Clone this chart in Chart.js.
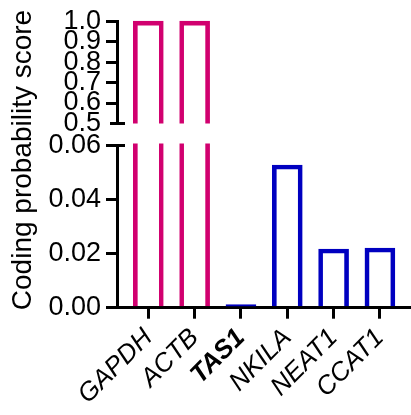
<!DOCTYPE html>
<html><head><meta charset="utf-8">
<script src="https://cdn.jsdelivr.net/npm/chart.js@4.4.1/dist/chart.umd.min.js"></script>
<style>
html,body{margin:0;padding:0;background:#fff;}
#wrap{position:relative;width:411px;height:415px;overflow:hidden;background:#fff;}
canvas{position:absolute;left:0;top:0;}
#ytitle{position:absolute;left:21.5px;top:159.5px;width:340px;height:30px;margin-left:-170px;margin-top:-15px;line-height:30px;text-align:center;font-family:'Liberation Sans',Arial,sans-serif;font-size:28px;color:#000;white-space:nowrap;transform:rotate(-90deg);}
</style></head>
<body>
<div id="wrap">
<canvas id="bottom" width="411" height="415"></canvas>
<canvas id="top" width="411" height="415"></canvas>
<div id="ytitle">Coding probability score</div>
</div>
<script>
// ---- data ----
const categories = ['GAPDH', 'ACTB', 'TAS1', 'NKILA', 'NEAT1', 'CCAT1'];
const scores = [1.0, 1.0, 0.0012, 0.0528, 0.0217, 0.0221];
const geneType = ['coding', 'coding', 'lncRNA', 'lncRNA', 'lncRNA', 'lncRNA'];
const upperTicks = [0.5, 0.6, 0.7, 0.8, 0.9, 1.0];
const lowerTicks = [0, 0.02, 0.04, 0.06];

// ---- styling / layout ----
const FONT = "'Liberation Sans', Arial, Helvetica, sans-serif";
const typeColor = { coding: '#D1006F', lncRNA: '#0000C0' };
const X_MIN = -0.676, X_MAX = 5.671;
const AXIS_X = 117;

const points = categories.map((c, i) => ({ x: i, y: scores[i] }));

const breakCap = {
  id: 'breakCap',
  afterDraw(chart, args, opts) {
    const ctx = chart.ctx;
    const py = chart.scales.y.getPixelForValue(opts.at);
    const px = chart.chartArea.left;
    ctx.save();
    ctx.strokeStyle = '#000';
    ctx.lineWidth = 3;
    ctx.beginPath();
    ctx.moveTo(px - 7, py);
    ctx.lineTo(px + 8, py);
    ctx.stroke();
    ctx.restore();
  }
};

function dataset() {
  return {
    data: points,
    backgroundColor: 'rgba(0,0,0,0)',
    borderColor: geneType.map(t => typeColor[t]),
    borderWidth: 4,
    borderSkipped: 'start',
    barThickness: 30,
    clip: { left: 0, right: 0, top: 2, bottom: 0 }
  };
}

function yScale(min, max, ticks, digits, hideMinTick) {
  return {
    min: min, max: max,
    afterFit: s => { s.width = AXIS_X; },
    afterBuildTicks: s => { s.ticks = ticks.map(v => ({ value: v })); },
    border: { display: true, color: '#000', width: 3 },
    grid: {
      drawOnChartArea: false, drawTicks: true, tickLength: 11, tickWidth: 3, lineWidth: 3, color: '#000',
      tickColor: ctx => (hideMinTick && ctx.tick && ctx.tick.value === min) ? 'rgba(0,0,0,0)' : '#000'
    },
    ticks: {
      autoSkip: false, padding: 5, color: '#000',
      font: { family: FONT, size: 27 },
      callback: v => Number(v).toFixed(digits)
    }
  };
}

function xScale(show) {
  return {
    type: 'linear', min: X_MIN, max: X_MAX, offset: false, bounds: 'data',
    display: show,
    afterFit: s => { if (show) s.height = 415 - 307.7; },
    afterBuildTicks: s => { s.ticks = categories.map((c, i) => ({ value: i })); },
    border: { display: true, color: '#000', width: 3 },
    grid: { offset: false, drawOnChartArea: false, drawTicks: true, tickLength: 11, tickWidth: 3, lineWidth: 3, color: '#000', tickColor: '#000' },
    ticks: {
      autoSkip: false, minRotation: 45, maxRotation: 45, padding: 4, color: '#000',
      font: ctx => ({ family: FONT, size: 26, style: 'italic',
                      weight: (ctx.tick && categories[ctx.tick.value] === 'TAS1') ? 'bold' : 'normal' }),
      callback: v => categories[v]
    }
  };
}

// upper segment (0.5 - 1.0)
new Chart(document.getElementById('top'), {
  type: 'bar',
  data: { datasets: [dataset()] },
  options: {
    responsive: false, animation: false,
    layout: { padding: { top: 15.5, bottom: 415 - 123.5, left: 0, right: 0 } },
    plugins: { legend: { display: false }, tooltip: { enabled: false }, breakCap: { at: 0.5 } },
    scales: { x: xScale(false), y: yScale(0.5, 1.0, upperTicks, 1, true) }
  },
  plugins: [breakCap]
});

// lower segment (0 - 0.06)
new Chart(document.getElementById('bottom'), {
  type: 'bar',
  data: { datasets: [dataset()] },
  options: {
    responsive: false, animation: false,
    layout: { padding: { top: 145.5, bottom: 0, left: 0, right: 0 } },
    plugins: { legend: { display: false }, tooltip: { enabled: false }, breakCap: { at: 0.06 } },
    scales: { x: xScale(true), y: yScale(0, 0.06, lowerTicks, 2, false) }
  },
  plugins: [breakCap]
});
</script>
</body></html>
